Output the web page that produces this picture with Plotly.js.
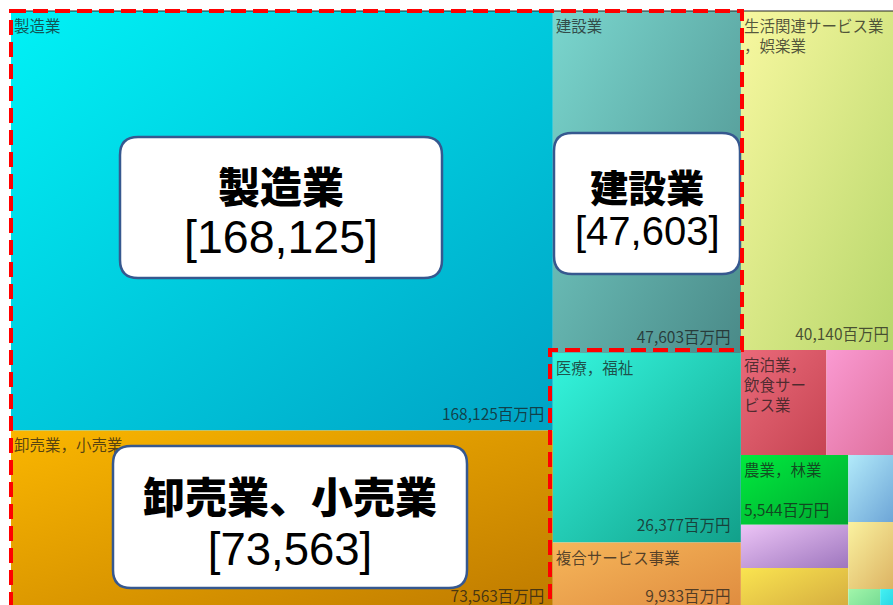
<!DOCTYPE html>
<html>
<head>
<meta charset="utf-8">
<script src="https://cdn.plot.ly/plotly-3.0.1.min.js"></script>
<style>
html,body{margin:0;padding:0;overflow:hidden;background:#fff;}
#chart{position:absolute;left:0;top:0;}
</style>
</head>
<body>
<svg id="gdefs" width="0" height="0" style="position:absolute;left:0;top:0"><defs></defs></svg>
<div id="chart"></div>
<script>
// ---------------- DATA (values in 百万円) ----------------
const leafIds    = ['mfg','trade','cons','med','coop','life','hotel','otherA','agri','otherB','otherC','otherD','otherE','otherF','otherG'];
const leafNames  = ['製造業','卸売業，小売業','建設業','医療，福祉','複合サービス事業','生活関連サービス業，娯楽業','宿泊業，飲食サービス業','その他①','農業，林業','その他②','その他③','その他④','その他⑤','その他⑥','その他⑦'];
const leafValues = [168125, 73563, 47603, 26377, 9933, 40140, 6640, 5790, 5544, 3420, 3660, 2610, 2610, 590, 385];
// label text as wrapped in the chart ('' = no label visible)
const leafLabelText = ['製造業','卸売業，小売業','建設業','医療，福祉','複合サービス事業','生活関連サービス業<br>，娯楽業','宿泊業，<br>飲食サー<br>ビス業','','農業，林業','','','','','',''];
// where the value label is shown: 'corner' (bottom right), 'inline' (under the name), '' (hidden)
const leafValueShow = ['corner','corner','corner','corner','corner','corner','','','inline','','','','','',''];
const unit = '百万円';

// Layout grouping of the tiles (columns / rows as arranged in the chart)
const leafGroup    = ['colA','colA','colB','colB','colB','colC','rowC1','rowC1','subL','subL','subL','subR','subR','rowC3','rowC3'];
const groupIds     = ['all','colA','colB','colC','rowC1','rowC2','subL','subR','rowC3'];
const groupParents = ['',   'all', 'all', 'all', 'colC', 'colC', 'rowC2','rowC2','subR'];

// Callouts
const calloutLeaf  = ['mfg','cons','trade'];
const calloutNames = ['製造業','建設業','卸売業、小売業'];

// ---------------- STYLE ----------------
const gradTL = ['#00F2F6','#FAB600','#7AD6CE','#34F6DE','#F6B65A','#F8F8A0','#EA6A7A','#FA9AD2','#00EA3E','#ECC4F6','#FAE450','#B2EAFA','#FAF2A0','#A2F6AA','#44F2F2'];
const gradBR = ['#00A2C4','#BE7A00','#4A8A88','#12A08A','#DE8A3E','#B6D66A','#C64452','#DE6E9A','#00A830','#9E76BE','#D2A83E','#68A0D4','#DAAE5E','#6ED690','#1EC6DE'];
function mix(a,b){
  const p=s=>[1,3,5].map(i=>parseInt(s.substr(i,2),16));
  const A=p(a),B=p(b);
  return 'rgb('+A.map((v,i)=>Math.round((v+B[i])/2)).join(',')+')';
}
const leafColors = gradTL.map((c,i)=>mix(c,gradBR[i]));

// ---------------- BUILD TRACES ----------------
const ids     = leafIds.concat(groupIds);
const labels  = leafNames.concat(groupIds.map(g=>g));
const parents = leafGroup.concat(groupParents);
const values  = leafValues.concat(groupIds.map(()=>0));

const fmt = v => v.toLocaleString('en-US') + unit;
const nameText = leafLabelText.map((t,i)=> leafValueShow[i]==='inline' ? t + '<br><br>' + fmt(leafValues[i]) : t).concat(groupIds.map(()=>''));
const valueText = leafValues.map((v,i)=> leafValueShow[i]==='corner' ? fmt(v) : '').concat(groupIds.map(()=>''));

const tileFont = {family:'"Noto Sans CJK JP", "Noto Sans", sans-serif', size:15.5, color:'rgba(25,25,25,0.74)'};

const common = {
  type:'treemap', ids:ids, labels:labels, parents:parents, values:values,
  branchvalues:'remainder', sort:false,
  textinfo:'text',
  tiling:{packing:'slice-dice', pad:0},
  pathbar:{visible:false},
  leaf:{opacity:1},
  root:{color:'#ffffff'},
  textfont:tileFont
};

const W = 901, H = 614, ML = 11, MT = 11;

const trace1 = Object.assign({}, common, {
  domain:{x:[0,1], y:[0,1]},
  text:nameText, textposition:'top left',
  marker:{colors:leafColors.concat(groupIds.map(()=>'#ffffff')), line:{width:0}, pad:{t:0,l:0,r:0,b:0}, depthfade:false},
  hoverinfo:'label+value'
});
// value labels: same tiles, transparent, text kept a little inside the bottom-right corner
const trace2 = Object.assign({}, common, {
  domain:{x:[0,(W-ML-9)/(W-ML)], y:[5/(H-MT),1]},
  text:valueText, textposition:'bottom right',
  marker:{colors:ids.map(()=>'rgba(0,0,0,0)'), line:{width:0}, pad:{t:0,l:0,r:0,b:0}, depthfade:false},
  hoverinfo:'skip'
});

// ---------------- LAYOUT ----------------
const px = x => (x - ML) / (W - ML);
const py = y => (H - y) / (H - MT);
const P = (x,y) => px(x).toFixed(5) + ',' + py(y).toFixed(5);
function roundRect(x0,y0,x1,y1,r){
  return 'M'+P(x0+r,y0)+' L'+P(x1-r,y0)+' Q'+P(x1,y0)+' '+P(x1,y0+r)+
         ' L'+P(x1,y1-r)+' Q'+P(x1,y1)+' '+P(x1-r,y1)+
         ' L'+P(x0+r,y1)+' Q'+P(x0,y1)+' '+P(x0,y1-r)+
         ' L'+P(x0,y0+r)+' Q'+P(x0,y0)+' '+P(x0+r,y0)+' Z';
}
// callout boxes in pixels: [x0,y0,x1,y1, textCenterY, lineGap, nameSize, numberSize]
const calloutBoxes = [
  [120,137,442,278, 209, 50, 42, 46.5],
  [554,133,740,274, 205, 43, 38, 40],
  [113,446,467,588, 519, 52, 42, 45.5]
];

const shapes = [];
shapes.push({type:'line', xref:'paper', yref:'paper', x0:px(11), x1:px(901), y0:py(11), y1:py(11), line:{color:'#222', width:1}});
calloutBoxes.forEach(b=>{
  shapes.push({type:'path', xref:'paper', yref:'paper', path:roundRect(b[0],b[1],b[2],b[3],18),
    fillcolor:'#ffffff', line:{color:'#36588F', width:2.5}});
});
shapes.push({type:'path', xref:'paper', yref:'paper',
  path:'M'+P(11,11)+' L'+P(742,11)+' L'+P(742,350)+' L'+P(550,350)+' L'+P(550,612)+' L'+P(11,612)+' Z',
  line:{color:'#FF0000', width:4, dash:'15px,7px'}, fillcolor:'rgba(0,0,0,0)'});

const annotations = calloutBoxes.map((b,k)=>{
  const cx = (b[0]+b[2])/2;
  const v = leafValues[leafIds.indexOf(calloutLeaf[k])];
  const txt = '<span style="font-family:\'Noto Sans CJK JP\';font-weight:900;font-size:' + b[6] + 'px">' + calloutNames[k] + '</span>' +
              '<br><span style="font-size:' + b[7] + 'px">[' + v.toLocaleString('en-US') + ']</span>';
  return {xref:'paper', yref:'paper', x:px(cx), y:py(b[4]), xanchor:'center', yanchor:'middle', showarrow:false,
    text:txt, font:{family:'"Liberation Sans", Arial, sans-serif', size:b[5]/1.3, color:'#000'}};
});

const layout = {
  width:W, height:H,
  margin:{l:ML, r:0, t:MT, b:0, pad:0},
  paper_bgcolor:'#ffffff',
  showlegend:false,
  shapes:shapes,
  annotations:annotations
};

Plotly.newPlot('chart', [trace1, trace2], layout, {displayModeBar:false}).then(gd=>{
  try {
    const NS = 'http://www.w3.org/2000/svg';
    const defs = document.querySelector('#gdefs defs');
    gradTL.forEach((c,i)=>{
      const lg = document.createElementNS(NS,'linearGradient');
      lg.setAttribute('id','lg'+i);
      lg.setAttribute('x1','0'); lg.setAttribute('y1','0'); lg.setAttribute('x2','1'); lg.setAttribute('y2','1');
      const s1 = document.createElementNS(NS,'stop'); s1.setAttribute('offset','0'); s1.setAttribute('stop-color',c);
      const s2 = document.createElementNS(NS,'stop'); s2.setAttribute('offset','1'); s2.setAttribute('stop-color',gradBR[i]);
      lg.appendChild(s1); lg.appendChild(s2); defs.appendChild(lg);
    });
    const traces = document.querySelectorAll('#chart .treemaplayer .trace');
    const first = traces[0];
    if (first) {
      first.querySelectorAll('path.surface').forEach(el=>{
        const d = el.__data__;
        let id = d && (d.id || (d.data && (d.data.id || (d.data.data && d.data.data.id))));
        let idx = leafIds.indexOf(id);
        if (idx < 0) {
          const f = el.style.fill.replace(/\s/g,'');
          idx = leafColors.findIndex(c=>c.replace(/\s/g,'')===f);
        }
        if (idx >= 0) el.style.fill = 'url(#lg'+idx+')';
      });
    }
  } catch(e) { console.log(e); }
});
</script>
</body>
</html>
